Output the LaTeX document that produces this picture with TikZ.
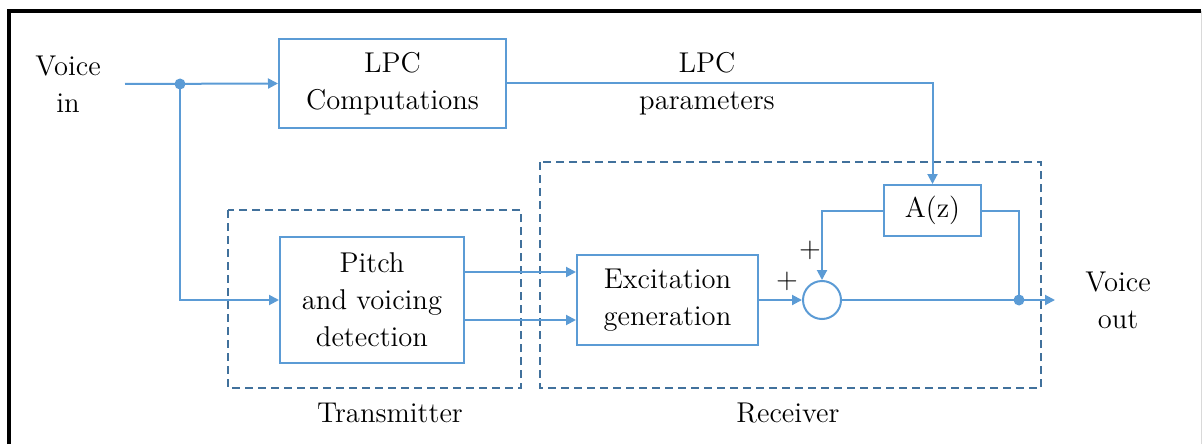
\documentclass[tikz,border=0pt]{standalone}
\usetikzlibrary{arrows.meta,calc}
\definecolor{lineblue}{RGB}{91,155,213}
\definecolor{dashblue}{RGB}{65,113,156}
\tikzset{
  txt/.style={font=\rmfamily\fontsize{14.3}{18.5}\selectfont, align=center, inner sep=0pt},
  blk/.style={draw=lineblue, line width=1pt, txt},
  conn/.style={draw=lineblue, line width=1pt},
  arr/.style={conn, -{Triangle[length=5pt,width=5pt]}},
  grp/.style={draw=dashblue, line width=0.9pt, dash pattern=on 4pt off 2.5pt},
  junc/.style={circle, fill=lineblue, inner sep=0pt, minimum size=5.5pt}
}
\begin{document}
\begin{tikzpicture}[x=0.5pt,y=-0.5pt]
\useasboundingbox (0,0) rectangle (1203,444);
% frame
\draw[line width=1.6pt, black] (9,444) -- (9,11) -- (1201,11);
\draw[line width=0.8pt, black!15] (1201.5,11) -- (1201.5,444);
% groups
\draw[grp] (228,210) rectangle (521,388);
\draw[grp] (540,162) rectangle (1041,388);
% blocks
\node[blk, minimum width=113.5pt, minimum height=44.5pt] (lpc) at (392.5,83.5) {LPC\\Computations};
\node[blk, minimum width=92pt, minimum height=63pt] (pitch) at (372,300) {Pitch\\and voicing\\detection};
\node[blk, minimum width=90.5pt, minimum height=45pt] (exc) at (667.5,300) {Excitation\\generation};
\node[blk, minimum width=48.5pt, minimum height=25.5pt] (az) at (932.5,210.5) {A(z)};
\node[circle, draw=lineblue, line width=1pt, minimum size=19pt, inner sep=0pt] (sum) at (822,300) {};
% labels
\node[txt] (vin) at (68,84) {Voice\\in};
\node[txt] (lpcp) at (707,84) {LPC\\parameters};
\node[txt] (vout) at (1118,300) {Voice\\out};
\node[txt] (p1) at (810,250) {+};
\node[txt] (p2) at (787,281) {+};
\node[txt] (tx) at (390,413) {Transmitter};
\node[txt] (rx) at (788,413) {Receiver};
% coordinates
\coordinate (in) at (125,84);
\coordinate (j1) at (180,84);
\coordinate (j2) at (1019,300);
\coordinate (out) at (1055,300);
% connectors
\draw[arr] (in) -- (lpc.west);
\draw[arr] (j1) |- (pitch.west);
\draw[arr] (lpc.east) -| (az.north);
\draw[arr] (pitch.east |- 0,272) -- (exc.west |- 0,272);
\draw[arr] (pitch.east |- 0,320) -- (exc.west |- 0,320);
\draw[arr] (exc.east) -- (sum.west);
\draw[arr] (az.west) -| (sum.north);
\draw[conn] (az.east) -| (j2);
\draw[arr] (sum.east) -- (out);
\node[junc] at (j1) {};
\node[junc] at (j2) {};
\end{tikzpicture}
\end{document}
